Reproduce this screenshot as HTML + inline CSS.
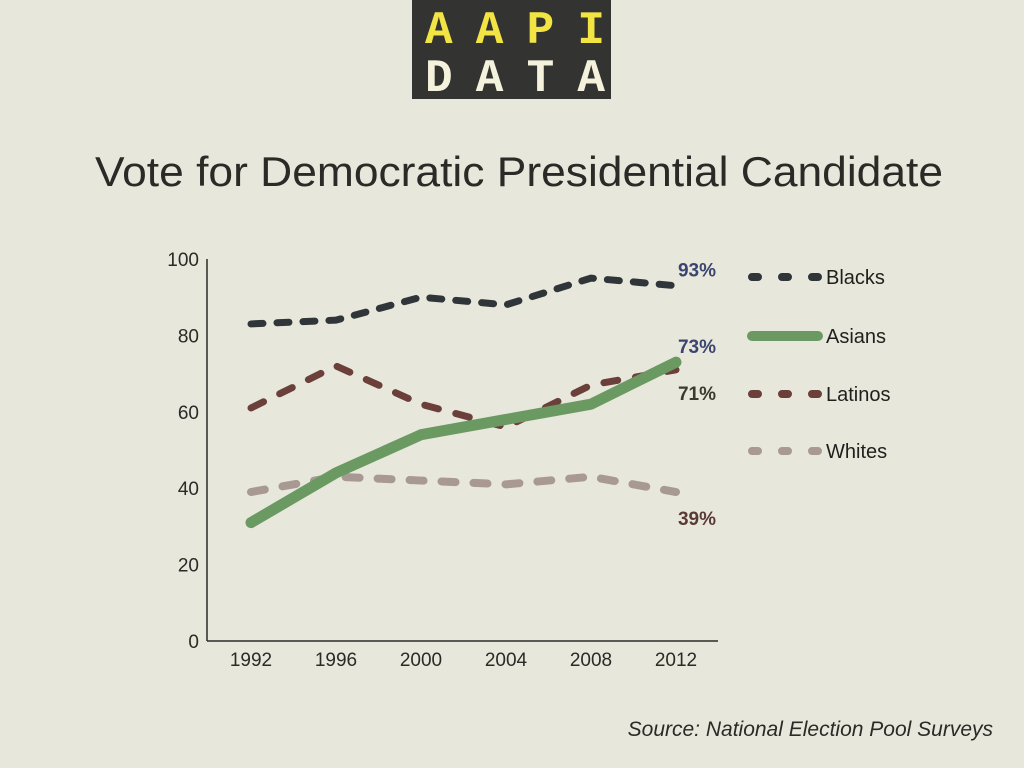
<!DOCTYPE html>
<html><head><meta charset="utf-8"><style>
body{margin:0;width:1024px;height:768px;background:#e8e7dc;overflow:hidden;font-family:"Liberation Sans",sans-serif}
svg{position:absolute;left:0;top:0}
</style></head><body>
<svg id="c" width="1024" height="768">
<g>
<rect x="412" y="0" width="199" height="99" fill="#333331"/>
<text x="425" y="43" textLength="180" lengthAdjust="spacing" font-family="Liberation Mono" font-weight="bold" font-size="46" fill="#f1e443">AAPI</text>
<text x="425" y="91" textLength="180" lengthAdjust="spacing" font-family="Liberation Mono" font-weight="bold" font-size="46" fill="#f4f1dc">DATA</text>
</g>
<text x="95" y="186" textLength="848" lengthAdjust="spacingAndGlyphs" font-size="42" fill="#2a2a26">Vote for Democratic Presidential Candidate</text>
<line x1="207" y1="259" x2="207" y2="641" stroke="#2a2a26" stroke-width="1.5"/>
<line x1="207" y1="641" x2="718" y2="641" stroke="#2a2a26" stroke-width="1.5"/>
<g id="ticks"></g><g id="lines"></g>
<text x="993" y="736" text-anchor="end" font-style="italic" font-size="21" fill="#2a2a26">Source: National Election Pool Surveys</text>
</svg>
<script>
const years=["1992","1996","2000","2004","2008","2012"];
const yTicks=[0,20,40,60,80,100];
const blacks=[83,84,90,88,95,93];
const asians=[31,44,54,58,62,73];
const latinos=[61,72,62,56,67,71];
const whites=[39,43,42,41,43,39];
const endLabels=["93%","73%","71%","39%"];
const NS="http://www.w3.org/2000/svg";
const x=i=>251+i*85;
const y=v=>641-v*3.82;
function mk(t,a,p){const e=document.createElementNS(NS,t);for(const k in a)e.setAttribute(k,a[k]);(p||document.getElementById('lines')).appendChild(e);return e;}
const tk=document.getElementById('ticks');
yTicks.forEach(v=>{const t=mk('text',{x:199,y:y(v)+7,'text-anchor':'end','font-size':19,fill:'#2a2a26'},tk);t.textContent=v;

});
years.forEach((yr,i)=>{const t=mk('text',{x:x(i),y:666,'text-anchor':'middle','font-size':19,fill:'#2a2a26'},tk);t.textContent=yr;

});
const series=[
{n:'blacks',d:blacks,c:'#2f3539',w:7,dash:'12 14',lab:'Blacks',ly:277,lc:'#3b4470',lo:-16},
{n:'latinos',d:latinos,c:'#6b3f3a',w:7,dash:'14 18',lab:'Latinos',ly:394,lc:'#3a3a30',lo:23},
{n:'whites',d:whites,c:'#a89a92',w:8,dash:'14 18',lab:'Whites',ly:451,lc:'#5a3a35',lo:26},
{n:'asians',d:asians,c:'#6a9a62',w:11,dash:'',lab:'Asians',ly:336,lc:'#3b4470',lo:-16}];
const labIdx={blacks:0,asians:1,latinos:2,whites:3};
series.forEach(s=>{
const pts=s.d.map((v,i)=>x(i)+','+y(v)).join(' ');
const a={points:pts,fill:'none',stroke:s.c,'stroke-width':s.w,'stroke-linecap':'round','stroke-linejoin':'round'};
if(s.dash)a['stroke-dasharray']=s.dash;
const p=mk('polyline',a);


const t=mk('text',{x:716,y:y(s.d[5])+s.lo+7,'text-anchor':'end','font-size':19,'font-weight':'bold',fill:s.lc});
t.textContent=endLabels[labIdx[s.n]];


const la={x1:752,y1:s.ly,x2:818,y2:s.ly,stroke:s.c,'stroke-width':s.dash?8:10,'stroke-linecap':'round'};
if(s.dash)la['stroke-dasharray']='6 24';
const l=mk('line',la);


const lt=mk('text',{x:826,y:s.ly+7,'font-size':20,fill:'#1f1f1c'});
lt.textContent=s.lab;


});
</script>
</body></html>
